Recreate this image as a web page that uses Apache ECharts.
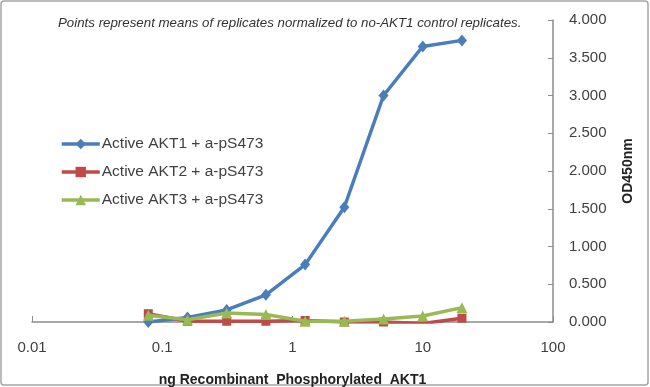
<!DOCTYPE html>
<html>
<head>
<meta charset="utf-8">
<script src="https://cdn.jsdelivr.net/npm/echarts@6/dist/echarts.min.js"></script>
<style>
html,body{margin:0;padding:0;background:#fff;}
#chart{width:650px;height:387px;}
</style>
</head>
<body>
<div id="chart"></div>
<script>
// ng of recombinant phosphorylated AKT1 (x, log scale)
var concentrations = [0.078125, 0.15625, 0.3125, 0.625, 1.25, 2.5, 5, 10, 20];
// OD450nm readings
var akt1 = [0.00, 0.06, 0.16, 0.36, 0.76, 1.52, 3.00, 3.65, 3.73];
var akt2 = [0.11, 0.01, 0.01, 0.01, 0.02, 0.00, 0.00, -0.02, 0.05];
var akt3 = [0.09, 0.03, 0.12, 0.10, 0.01, 0.01, 0.04, 0.08, 0.19];
var seriesNames = ['Active AKT1 + a-pS473', 'Active AKT2 + a-pS473', 'Active AKT3 + a-pS473'];
var xTickLabels = ['0.01', '0.1', '1', '10', '100'];
var noteText = 'Points represent means of replicates normalized to no-AKT1 control replicates.';
var xTitle = 'ng Recombinant  Phosphorylated  AKT1';
var yTitle = 'OD450nm';

function pairs(vals) {
  return concentrations.map(function (c, i) { return [c, vals[i]]; });
}

var FONT = 'Liberation Sans';
var chart = echarts.init(document.getElementById('chart'), null, {renderer: 'canvas'});
var colors = ['#4A7EBB', '#BE4B48', '#98B954'];
var symbols = ['diamond', 'rect', 'triangle'];
var symSizes = [[10, 12], 9, 11];
var datasets = [akt1, akt2, akt3];

chart.setOption({
  animation: false,
  backgroundColor: '#fff',
  textStyle: {fontFamily: FONT},
  title: {
    text: noteText,
    left: 53,
    top: 12,
    textStyle: {fontFamily: FONT, fontSize: 13.3, fontStyle: 'italic', fontWeight: 'normal', color: '#333'}
  },
  graphic: [{
    type: 'rect',
    shape: {x: 1, y: 1, width: 647, height: 384, r: 3},
    style: {fill: 'none', stroke: '#a6a6a6', lineWidth: 1.5},
    silent: true
  }],
  legend: {
    orient: 'vertical',
    left: 55,
    top: 131,
    itemGap: 12,
    itemWidth: 38,
    itemHeight: 13,
    lineStyle: {width: 3.5},
    data: seriesNames,
    textStyle: {fontFamily: FONT, fontSize: 15.5, color: '#404040', padding: [0, 0, 0, -3]}
  },
  grid: {left: 32, right: 97, top: 20, bottom: 65, containLabel: false, outerBoundsMode: 'none'},
  xAxis: {
    type: 'log',
    logBase: 10,
    min: 0.01,
    max: 100,
    name: xTitle,
    nameLocation: 'middle',
    nameGap: 51,
    nameTextStyle: {fontFamily: FONT, fontSize: 14, fontWeight: 'bold', color: '#222'},
    axisLine: {show: true, lineStyle: {color: '#8c8c8c', width: 1.5}},
    axisTick: {show: true, inside: true, length: 6, lineStyle: {color: '#8c8c8c'}},
    axisLabel: {
      margin: 18,
      fontSize: 15,
      color: '#404040',
      formatter: function (v) {
        var idx = Math.round(Math.log10(v)) + 2;
        return xTickLabels[idx] !== undefined ? xTickLabels[idx] : '';
      }
    },
    splitLine: {show: false}
  },
  yAxis: {
    type: 'value',
    position: 'right',
    min: 0,
    max: 4,
    interval: 0.5,
    name: yTitle,
    nameLocation: 'middle',
    nameRotate: 90,
    nameGap: 68,
    nameTextStyle: {fontFamily: FONT, fontSize: 14, fontWeight: 'bold', color: '#222'},
    axisLine: {show: true, lineStyle: {color: '#8c8c8c', width: 1.5}},
    axisTick: {show: true, inside: true, length: 5, lineStyle: {color: '#8c8c8c'}},
    axisLabel: {
      margin: 16,
      fontSize: 15,
      color: '#404040',
      formatter: function (v) { return v.toFixed(3); }
    },
    splitLine: {show: false}
  },
  series: seriesNames.map(function (name, i) {
    return {
      name: name,
      type: 'line',
      data: pairs(datasets[i]),
      symbol: symbols[i],
      symbolSize: symSizes[i],
      showAllSymbol: true,
      lineStyle: {color: colors[i], width: 3.5},
      itemStyle: {color: colors[i], borderWidth: 0},
      z: 2 + i
    };
  })
});
</script>
</body>
</html>
